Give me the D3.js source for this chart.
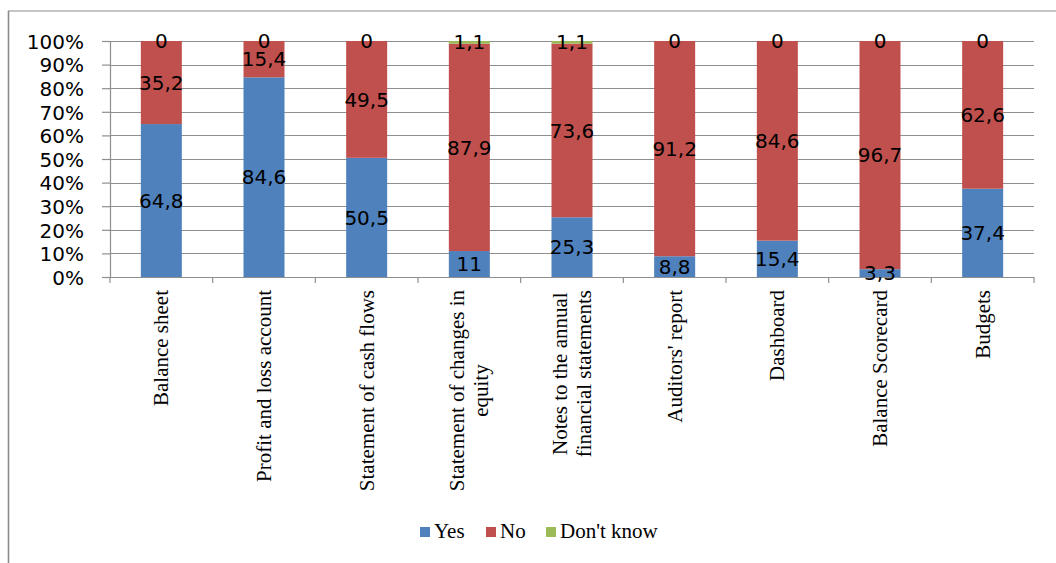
<!DOCTYPE html>
<html>
<head>
<meta charset="utf-8">
<script src="https://cdn.jsdelivr.net/npm/d3@7"></script>
<style>
  html, body { margin: 0; padding: 0; background: #fff; }
  svg { display: block; }
</style>
</head>
<body>
<svg id="chart" width="1056" height="563"></svg>
<script>
// Report types asked about in the survey
const categories = [
  "Balance sheet",
  "Profit and loss account",
  "Statement of cash flows",
  "Statement of changes in\nequity",
  "Notes to the annual\nfinancial statements",
  "Auditors' report",
  "Dashboard",
  "Balance Scorecard",
  "Budgets"
];
// Answer shares (percent) per report type
const yesValues = [64.8, 84.6, 50.5, 11, 25.3, 8.8, 15.4, 3.3, 37.4];
const noValues = [35.2, 15.4, 49.5, 87.9, 73.6, 91.2, 84.6, 96.7, 62.6];
const dontKnowValues = [0, 0, 0, 1.1, 1.1, 0, 0, 0, 0];
const seriesNames = ["Yes", "No", "Don't know"];
const seriesColors = ["#4F81BD", "#C0504D", "#9BBB59"];
const yTicks = [0, 10, 20, 30, 40, 50, 60, 70, 80, 90, 100];

const svg = d3.select("#chart");
const W = 1056, H = 563;
const plot = { left: 110, right: 1034, top: 41, bottom: 277 };

// Outer chart frame (top and left edges visible)
svg.append("line").attr("x1", 8).attr("x2", W).attr("y1", 11).attr("y2", 11)
  .attr("stroke", "#8c8c8c").attr("stroke-width", 1.2);
svg.append("line").attr("x1", 8.5).attr("x2", 8.5).attr("y1", 11).attr("y2", H)
  .attr("stroke", "#8c8c8c").attr("stroke-width", 1.6);

const rows = categories.map((c, i) => ({
  cat: c, "Yes": yesValues[i], "No": noValues[i], "Don't know": dontKnowValues[i]
}));

const x = d3.scaleBand().domain(categories).range([plot.left, plot.right]).paddingInner(0.6).paddingOuter(0.3);
const xOuter = d3.scaleBand().domain(categories).range([plot.left, plot.right]);
const y = d3.scaleLinear().domain([0, 100]).range([plot.bottom, plot.top]);

// Horizontal gridlines
svg.append("g").selectAll("line").data(yTicks).join("line")
  .attr("x1", plot.left).attr("x2", plot.right)
  .attr("y1", d => Math.round(y(d)) + 0.5).attr("y2", d => Math.round(y(d)) + 0.5)
  .attr("stroke", "#8e8e8e").attr("stroke-width", 1.2);

// Y axis
const yAxis = svg.append("g").attr("transform", `translate(${plot.left},0)`)
  .call(d3.axisLeft(y).tickValues(yTicks).tickFormat(d => d + "%").tickSize(8).tickPadding(18));
yAxis.select(".domain").attr("stroke", "#8e8e8e").attr("stroke-width", 1.2);
yAxis.selectAll(".tick line").attr("stroke", "#8e8e8e").attr("stroke-width", 1.2);
yAxis.selectAll(".tick text")
  .attr("font-family", "DejaVu Sans, sans-serif").attr("font-size", 20).attr("fill", "#000")
  .attr("dy", "0.36em");

// Stacked bars
const stack = d3.stack().keys(seriesNames);
const layers = stack(rows);
const colorOf = d3.scaleOrdinal().domain(seriesNames).range(seriesColors);

const barW = 41;
const layerG = svg.append("g").selectAll("g").data(layers).join("g")
  .attr("fill", d => colorOf(d.key));
layerG.selectAll("rect").data(d => d.map(p => ({ p, key: d.key }))).join("rect")
  .attr("x", d => xOuter(d.p.data.cat) + xOuter.bandwidth() / 2 - barW / 2)
  .attr("width", barW)
  .attr("y", d => y(d.p[1]))
  .attr("height", d => y(d.p[0]) - y(d.p[1]));

// X axis line and ticks at category boundaries
svg.append("line").attr("x1", plot.left).attr("x2", plot.right)
  .attr("y1", plot.bottom + 0.5).attr("y2", plot.bottom + 0.5)
  .attr("stroke", "#8e8e8e").attr("stroke-width", 1.2);
const bounds = categories.map(c => xOuter(c)).concat([plot.right]);
svg.append("g").selectAll("line").data(bounds).join("line")
  .attr("x1", d => d).attr("x2", d => d)
  .attr("y1", plot.bottom).attr("y2", plot.bottom + 6)
  .attr("stroke", "#8e8e8e").attr("stroke-width", 1.2);

// Value labels centred in each segment
const fmt = v => String(v).replace(".", ",");
layers.forEach(layer => {
  svg.append("g").selectAll("text").data(layer).join("text")
    .attr("x", d => xOuter(d.data.cat) + xOuter.bandwidth() / 2)
    .attr("y", d => (y(d[0]) + y(d[1])) / 2)
    .attr("dy", "0.36em")
    .attr("text-anchor", "middle")
    .attr("font-family", "DejaVu Sans, sans-serif")
    .attr("font-size", 20)
    .attr("fill", "#000")
    .text(d => fmt(d.data[layer.key]));
});

// Rotated category labels (lines centred on each other, top edge aligned)
const labelTop = 290;
const lineGap = 24;
categories.forEach(c => {
  const lines = c.split("\n");
  const cx = xOuter(c) + xOuter.bandwidth() / 2;
  const g = svg.append("g");
  const texts = lines.map((ln, i) => g.append("text")
    .attr("font-family", "Liberation Serif, Times New Roman, serif")
    .attr("font-size", 21)
    .attr("fill", "#000")
    .attr("text-anchor", "middle")
    .text(ln));
  const maxLen = d3.max(texts, t => t.node().getComputedTextLength());
  const n = lines.length;
  texts.forEach((t, i) => {
    const px = cx + (i - (n - 1) / 2) * lineGap + 7;
    const py = labelTop + maxLen / 2;
    t.attr("transform", `translate(${px},${py}) rotate(-90)`);
  });
});

// Legend
const legendItems = [
  { name: "Yes", x: 420 },
  { name: "No", x: 486 },
  { name: "Don't know", x: 546 }
];
const lg = svg.append("g");
legendItems.forEach((it, i) => {
  lg.append("rect").attr("x", it.x).attr("y", 527).attr("width", 10).attr("height", 10)
    .attr("fill", seriesColors[i]);
  lg.append("text").attr("x", it.x + 14).attr("y", 538)
    .attr("font-family", "Liberation Serif, Times New Roman, serif")
    .attr("font-size", 21).attr("fill", "#000").text(it.name);
});
</script>
</body>
</html>
